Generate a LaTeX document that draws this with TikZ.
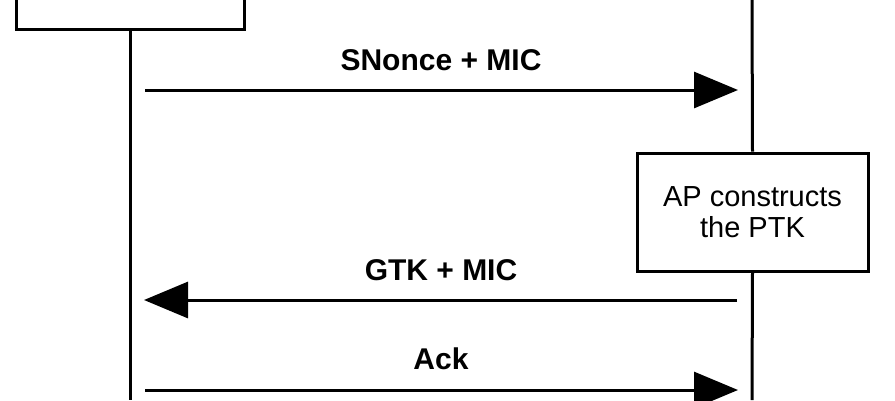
\documentclass[tikz,border=0pt]{standalone}
\usepackage{fontspec}
\setmainfont{Liberation Sans}
\usetikzlibrary{arrows.meta}
\begin{document}
\begin{tikzpicture}[x=1pt,y=-1pt,line width=3pt,
  msg/.style={-{Triangle[length=44pt,width=36pt]},shorten >=14pt,shorten <=15pt},
  lbl/.style={font=\fontsize{30}{31}\selectfont\bfseries},
  txt/.style={font=\fontsize{29}{31}\selectfont}]
 \useasboundingbox (0,0) rectangle (895,400);
 \clip (0,0) rectangle (895,400);
 % the two parties
 \node[draw,minimum width=228pt,minimum height=70pt,anchor=south] (sta) at (130,31) {};
 \node[draw,txt,align=center,minimum width=231pt,minimum height=118pt] (apbox) at (752.5,212) {AP constructs\\the PTK};
 \coordinate (staend) at (130,400);
 \coordinate (aptop) at (752,0); \coordinate (apend) at (752,400);
 \draw (sta.south) -- (staend);
 \draw (aptop) -- (apbox.north); \draw (apbox.south) -- (apend);
 % messages
 \coordinate (m1l) at (130,90);  \coordinate (m1r) at (752,90);
 \coordinate (m2l) at (130,300); \coordinate (m2r) at (752,300);
 \coordinate (m3l) at (130,390); \coordinate (m3r) at (752,390);
 \draw[msg] (m1l) -- node[lbl,above=14pt] {SNonce + MIC} (m1r);
 \draw[msg] (m2r) -- node[lbl,above=14pt] {GTK + MIC} (m2l);
 \draw[msg] (m3l) -- node[lbl,above=15pt] {Ack} (m3r);
\end{tikzpicture}
\end{document}
